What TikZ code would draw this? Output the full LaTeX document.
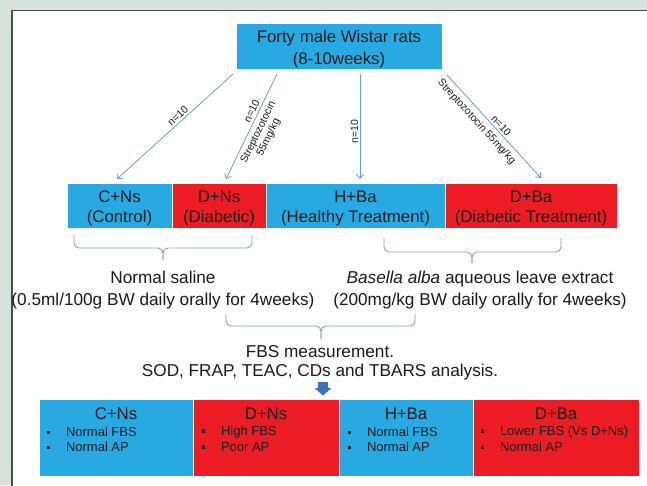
\documentclass[tikz,border=0pt]{standalone}
\usepackage{fontspec}
\setmainfont{Liberation Sans}
\usetikzlibrary{arrows.meta,calc}
\definecolor{bgc}{HTML}{D7E3DA}
\definecolor{boxblue}{HTML}{29A9E1}
\definecolor{boxred}{HTML}{EC1C24}
\definecolor{lineblue}{HTML}{6E9BD0}
\definecolor{bracec}{HTML}{809FCB}
\definecolor{darrow}{HTML}{3E70B6}
\definecolor{framec}{HTML}{4D4D4D}
\definecolor{txtc}{HTML}{1A1A1A}
\newcommand{\bsq}{\makebox[19pt][l]{\raisebox{2.6pt}{\rule{3.2pt}{3.2pt}}}}
\begin{document}
\begin{tikzpicture}[x=1pt,y=-1pt,
  boxbase/.style={inner sep=0pt, draw=white, line width=0.4pt},
  bbox/.style={boxbase, fill=boxblue},
  rbox/.style={boxbase, fill=boxred},
  boxtxt/.style={inner sep=0pt, align=center, text=txtc, font=\fontsize{16.8pt}{20pt}\selectfont},
  conn/.style={lineblue, line width=0.8pt, -{Straight Barb[length=4pt,width=7pt]}},
  lab/.style={font=\fontsize{10.5pt}{11.5pt}\selectfont, sloped, inner sep=2pt, text=txtc},
  bracestyle/.style={bracec, line width=0.9pt, rounded corners=5pt},
  freetxt/.style={align=center, text=txtc, inner sep=0pt, font=\fontsize{17.2pt}{22pt}\selectfont},
  ttl/.style={inner sep=0pt, text=txtc, font=\fontsize{16.8pt}{20pt}\selectfont},
  bul/.style={inner sep=0pt, anchor=west, text=txtc, font=\fontsize{13pt}{15pt}\selectfont}
]
\useasboundingbox (0,0) rectangle (647,485);
\begin{scope}
  \clip (0,0) rectangle (647,485);
  \fill[bgc] (0,0) rectangle (647,485);
  \fill[white] (12,10.5) rectangle (660,500);
  \draw[framec, line width=1.4pt] (12,500) -- (12,10.5) -- (660,10.5);
\end{scope}

% top box
\node[bbox, minimum width=206pt, minimum height=46pt] (top) at (339,46) {};
\node[boxtxt, font=\fontsize{16.8pt}{22pt}\selectfont] (toptxt) at ($(top.center)+(0,3)$) {Forty male Wistar rats\\(8-10weeks)};

% group boxes
\node[bbox, minimum width=105pt, minimum height=45pt] (g1) at (119.5,205.5) {};
\node[rbox, minimum width=94pt, minimum height=45pt] (g2) at (219,205.5) {};
\node[bbox, minimum width=179pt, minimum height=45pt] (g3) at (355.5,205.5) {};
\node[rbox, minimum width=172pt, minimum height=45pt] (g4) at (531,205.5) {};
\node[boxtxt] (g1t) at ($(g1.center)+(0,2.5)$) {C+Ns\\(Control)};
\node[boxtxt] (g2t) at ($(g2.center)+(0,2.5)$) {D+Ns\\(Diabetic)};
\node[boxtxt] (g3t) at ($(g3.center)+(0,2.5)$) {H+Ba\\(Healthy Treatment)};
\node[boxtxt] (g4t) at ($(g4.center)+(0,2.5)$) {D+Ba\\(Diabetic Treatment)};

% arrow ends
\coordinate (s1) at (233,74);  \coordinate (e1) at (117,179);
\coordinate (s2) at (277,74);  \coordinate (e2) at (226,179);
\coordinate (s3) at (360,74);  \coordinate (e3) at (360,179);
\coordinate (s4) at (447,75);  \coordinate (e4) at (541,178);

\draw[conn] (s1) -- node[lab, above, pos=0.44] {n=10} (e1);
\draw[conn] (s2) -- node[lab, above=0.5pt, pos=0.38] {n=10}
                    node[lab, below=1.5pt, pos=0.52, align=center] {Streptozotocin\\55mg/kg} (e2);
\draw[conn] (s3) -- node[font=\fontsize{10.5pt}{11.5pt}\selectfont, text=txtc, inner sep=1.5pt, rotate=90, anchor=south, pos=0.55] {n=10} (e3);
\draw[conn] (s4) -- node[lab, above, pos=0.53] {n=10}
                    node[lab, below=2.5pt, pos=0.39] {Streptozotocin 55mg/kg} (e4);

% braces
\draw[bracestyle] (74,235) -- (74,248) -- (163,248) -- (163,260);
\draw[bracestyle] (252,235) -- (252,248) -- (163,248) -- (163,260);
\draw[bracestyle] (384,238) -- (384,252) -- (472,252) -- (472,263);
\draw[bracestyle] (561,238) -- (561,252) -- (472,252) -- (472,263);

\node[freetxt] (sal) at (163,290.5) {Normal saline\\(0.5ml/100g BW daily orally for 4weeks)};
\node[freetxt] (bas) at (480,290.5) {\textit{Basella alba} aqueous leave extract\\(200mg/kg BW daily orally for 4weeks)};

\draw[bracestyle] (226,314) -- (226,326) -- (321,326) -- (321,339);
\draw[bracestyle] (415,314) -- (415,326) -- (321,326) -- (321,339);

\node[freetxt, font=\fontsize{17.2pt}{19pt}\selectfont] (meas) at (320,362.5) {FBS measurement.\\SOD, FRAP, TEAC, CDs and TBARS analysis.};

% block arrow
\fill[darrow] (318,382) -- (328,382) -- (328,388) -- (331.5,388) -- (323,395.5) -- (314.5,388) -- (318,388) -- cycle;

% result boxes
\node[bbox, minimum width=154pt, minimum height=77pt] (b1) at (116,437.5) {};
\node[rbox, minimum width=146pt, minimum height=77pt] (b2) at (266,437.5) {};
\node[bbox, minimum width=134pt, minimum height=77pt] (b3) at (406,437.5) {};
\node[rbox, minimum width=166pt, minimum height=77pt] (b4) at (556,437.5) {};

\node[ttl] (b1t) at ($(b1.north)+(0,15)$) {C+Ns};
\node[bul] (b1a) at ($(b1.north west)+(8,33)$) {\bsq Normal FBS};
\node[bul] (b1b) at ($(b1.north west)+(8,48)$) {\bsq Normal AP};

\node[ttl] (b2t) at ($(b2.north)+(0,15)$) {D+Ns};
\node[bul] (b2a) at ($(b2.north west)+(9,33)$) {\bsq High FBS};
\node[bul] (b2b) at ($(b2.north west)+(9,48)$) {\bsq Poor AP};

\node[ttl] (b3t) at ($(b3.north)+(0,15)$) {H+Ba};
\node[bul] (b3a) at ($(b3.north west)+(9,33)$) {\bsq Normal FBS};
\node[bul] (b3b) at ($(b3.north west)+(9,48)$) {\bsq Normal AP};

\node[ttl] (b4t) at ($(b4.north)+(0,15)$) {D+Ba};
\node[bul] (b4a) at ($(b4.north west)+(8,33)$) {\bsq Lower FBS (Vs D+Ns)};
\node[bul] (b4b) at ($(b4.north west)+(8,48)$) {\bsq Normal AP};
\end{tikzpicture}
\end{document}
